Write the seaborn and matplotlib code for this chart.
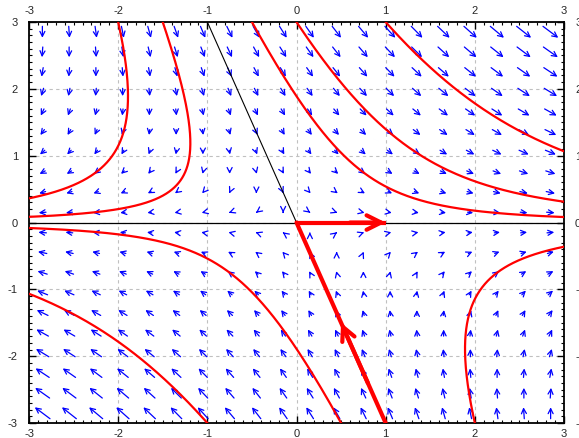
import numpy as np
import matplotlib
matplotlib.use("Agg")
import matplotlib.pyplot as plt
import seaborn as sns

# linear system  x' = A x
system_matrix = [[1.0, 1.0],
                 [0.0, -2.0]]

# starting points of the red trajectories
start_x = [-2.0, -1.5, -0.5, 0.0, 1.0, -1.0, 0.5, 2.0]
start_y = [3.0, 3.0, 3.0, 3.0, 3.0, -3.0, -3.0, -3.0]

# eigen-directions drawn as lines
unstable_end = [1.0, 0.0]
stable_start = [1.0, -3.0]
stable_top = [-1.0, 3.0]

ticks = [-3, -2, -1, 0, 1, 2, 3]

sns.set_style("white")
plt.rcParams["font.family"] = ["Liberation Sans", "DejaVu Sans"]

A = np.array(system_matrix)
eigvals, eigvecs = np.linalg.eig(A)
eigvecs_inv = np.linalg.inv(eigvecs)

fig = plt.figure(figsize=(5.79, 4.38), dpi=100)
ax = fig.add_axes([0.0501, 0.0342, 0.924, 0.9155])
ax.set_xlim(-3, 3)
ax.set_ylim(-3, 3)

# grid
ax.set_xticks(ticks)
ax.set_yticks(ticks)
ax.grid(True, color="#c0c0c0", linestyle=(0, (3, 3)), linewidth=0.8, zorder=0)

# direction field, arrows centred on the sample points
grid_vals = np.arange(-2.85, 2.86, 0.3)
gx, gy = np.meshgrid(grid_vals, grid_vals)
pts = np.vstack([gx.ravel(), gy.ravel()])
vel = A @ pts
scale = 0.03
for (px, py), (vx, vy) in zip(pts.T, vel.T):
    ax.annotate("", xy=(px + scale * vx / 2, py + scale * vy / 2),
                xytext=(px - scale * vx / 2, py - scale * vy / 2),
                arrowprops=dict(arrowstyle="->", color="#0000ff", lw=0.9,
                                shrinkA=0, shrinkB=0, mutation_scale=9),
                zorder=2)

# zero axis and upper half of the stable line
ax.axhline(0, color="black", lw=0.9, zorder=3)
ax.plot([stable_top[0], 0], [stable_top[1], 0], color="black", lw=0.8, zorder=3)

# trajectories
t = np.linspace(-5, 5, 4000)
for x0, y0 in zip(start_x, start_y):
    c = eigvecs_inv @ np.array([x0, y0])
    traj = eigvecs @ (c[:, None] * np.exp(np.outer(eigvals, t)))
    xs, ys = traj[0].real, traj[1].real
    keep = (np.abs(xs) < 6) & (np.abs(ys) < 6)
    sns.lineplot(x=xs[keep], y=ys[keep], sort=False, estimator=None,
                 color="red", lw=1.6, ax=ax, zorder=4)

# thick manifold lines with arrows
ax.plot([0, unstable_end[0]], [0, unstable_end[1]], color="red", lw=3, zorder=5,
        solid_capstyle="butt")
ax.annotate("", xy=tuple(unstable_end), xytext=(0.6, 0.0),
            arrowprops=dict(arrowstyle="->", color="red", lw=3,
                            shrinkA=0, shrinkB=0, mutation_scale=26), zorder=5)
ax.plot([stable_start[0], 0], [stable_start[1], 0], color="red", lw=3, zorder=5)
ax.annotate("", xy=(stable_start[0] / 2, stable_start[1] / 2),
            xytext=(stable_start[0] * 0.8, stable_start[1] * 0.8),
            arrowprops=dict(arrowstyle="->", color="red", lw=3,
                            shrinkA=0, shrinkB=0, mutation_scale=24), zorder=5)

# ticks on all four sides, pointing inward
ax.set_xticks(np.arange(-3, 3.01, 0.1), minor=True)
ax.set_yticks(np.arange(-3, 3.01, 0.1), minor=True)
ax.tick_params(which="both", direction="in", top=True, right=True,
               bottom=True, left=True, color="black")
ax.tick_params(which="major", length=5, width=1)
ax.tick_params(which="minor", length=2.5, width=0.8)
ax.tick_params(axis="x", labeltop=True, labelbottom=True, pad=4, labelsize=8)
ax.tick_params(axis="y", labelleft=True, labelright=True, pad=8, labelsize=8)
ax.set_xticklabels([str(v) for v in ticks])
ax.set_yticklabels([str(v) for v in ticks])
for s in ax.spines.values():
    s.set_color("black")
    s.set_linewidth(1.3)
ax.set_xlabel("")
ax.set_ylabel("")

fig.savefig("out.png", dpi=100)
